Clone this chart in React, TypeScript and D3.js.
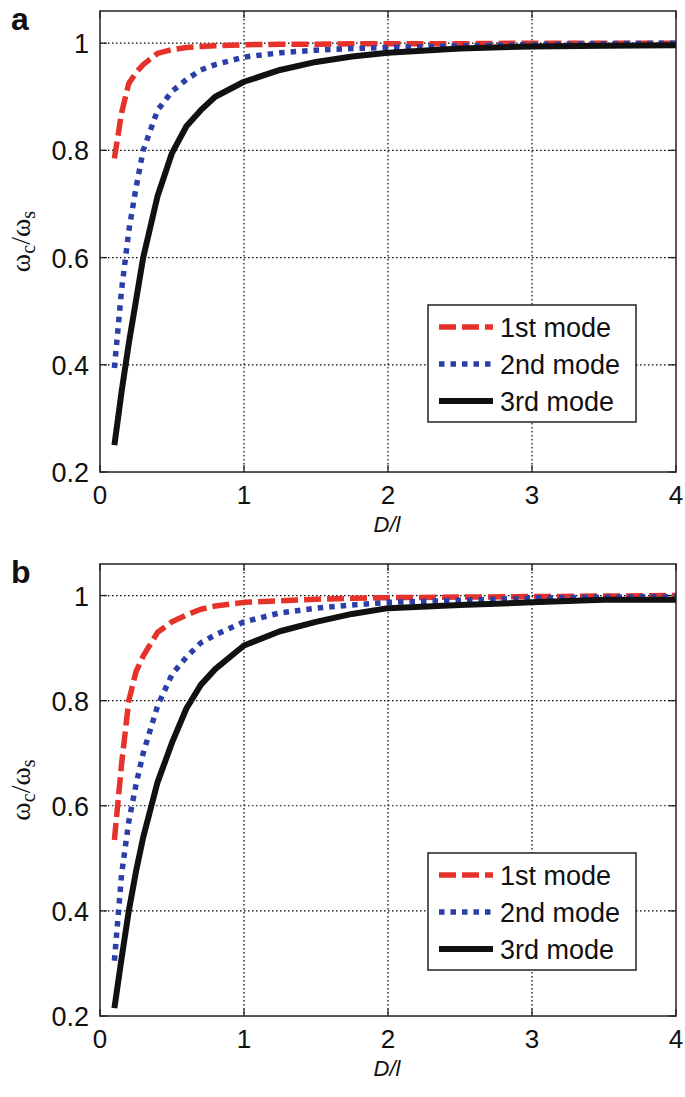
import React from "react";
import * as d3 from "d3";

const dValues = [0.1, 0.15, 0.2, 0.25, 0.3, 0.4, 0.5, 0.6, 0.7, 0.8, 1.0, 1.25, 1.5, 1.75, 2.0, 2.5, 3.0, 3.5, 4.0];

const aMode1 = [0.785, 0.87, 0.925, 0.945, 0.96, 0.981, 0.988, 0.992, 0.994, 0.995, 0.997, 0.998, 0.998, 0.999, 0.999, 0.999, 1.0, 1.0, 1.0];
const aMode2 = [0.394, 0.54, 0.65, 0.73, 0.8, 0.875, 0.91, 0.932, 0.95, 0.96, 0.974, 0.982, 0.987, 0.99, 0.992, 0.995, 0.997, 0.999, 1.0];
const aMode3 = [0.25, 0.35, 0.44, 0.52, 0.6, 0.715, 0.795, 0.845, 0.875, 0.9, 0.928, 0.95, 0.965, 0.975, 0.982, 0.99, 0.994, 0.995, 0.996];

const bMode1 = [0.535, 0.68, 0.8, 0.855, 0.885, 0.93, 0.95, 0.963, 0.974, 0.98, 0.987, 0.99, 0.993, 0.995, 0.996, 0.997, 0.998, 0.999, 1.0];
const bMode2 = [0.305, 0.47, 0.57, 0.64, 0.7, 0.79, 0.85, 0.883, 0.91, 0.925, 0.95, 0.967, 0.976, 0.982, 0.987, 0.991, 0.995, 0.997, 0.998];
const bMode3 = [0.215, 0.31, 0.4, 0.475, 0.54, 0.645, 0.72, 0.785, 0.83, 0.86, 0.905, 0.932, 0.95, 0.965, 0.976, 0.982, 0.987, 0.992, 0.992];

const seriesNames = ["1st mode", "2nd mode", "3rd mode"];
const xTicks = [0, 1, 2, 3, 4];
const yTicks = [0.2, 0.4, 0.6, 0.8, 1];
const xDomain = [0, 4];
const yDomain = [0.2, 1.06];
const panelLabels = ["a", "b"];

const styles = [
  { color: "#e5322a", width: 5.5, dash: "17,6" },
  { color: "#2c3fa8", width: 5.5, dash: "5.5,6" },
  { color: "#111111", width: 6, dash: "" },
];

const panels = [
  { label: panelLabels[0], top: 11, bottom: 472, series: [aMode1, aMode2, aMode3], legendTop: 305 },
  { label: panelLabels[1], top: 564, bottom: 1016, series: [bMode1, bMode2, bMode3], legendTop: 853 },
];

const LEFT = 100;
const RIGHT = 676;
const FONT = "Liberation Sans, Arial, Helvetica, sans-serif";

function Panel({ p }: { p: (typeof panels)[number] }) {
  const x = d3.scaleLinear().domain(xDomain).range([LEFT, RIGHT]);
  const y = d3.scaleLinear().domain(yDomain).range([p.bottom, p.top]);
  const line = d3
    .line<number>()
    .x((_, i) => x(dValues[i]))
    .y((v) => y(v));
  const legX = 428;
  const legW = 208;
  const legH = 117;
  const rowY = [22, 59, 96];
  return (
    <g>
      {xTicks.slice(1, -1).map((t) => (
        <line key={"gx" + t} x1={x(t)} x2={x(t)} y1={p.top} y2={p.bottom} stroke="#000" strokeWidth={1.2} strokeDasharray="1.5,2.5" />
      ))}
      {yTicks.slice(1).map((t) => (
        <line key={"gy" + t} x1={LEFT} x2={RIGHT} y1={y(t)} y2={y(t)} stroke="#000" strokeWidth={1.2} strokeDasharray="1.5,2.5" />
      ))}
      {xTicks.map((t) => (
        <g key={"tx" + t}>
          <line x1={x(t)} x2={x(t)} y1={p.bottom} y2={p.bottom - 7} stroke="#222" strokeWidth={1.3} />
          <line x1={x(t)} x2={x(t)} y1={p.top} y2={p.top + 7} stroke="#222" strokeWidth={1.3} />
          <text x={x(t)} y={p.bottom + 32} textAnchor="middle" fontFamily={FONT} fontSize={26} fill="#111">
            {t}
          </text>
        </g>
      ))}
      {yTicks.map((t) => (
        <g key={"ty" + t}>
          <line x1={LEFT} x2={LEFT + 7} y1={y(t)} y2={y(t)} stroke="#222" strokeWidth={1.3} />
          <line x1={RIGHT} x2={RIGHT - 7} y1={y(t)} y2={y(t)} stroke="#222" strokeWidth={1.3} />
          <text x={89} y={y(t) + 10} textAnchor="end" fontFamily={FONT} fontSize={27} fill="#111">
            {t === 1 ? "1" : t.toFixed(1)}
          </text>
        </g>
      ))}
      {p.series.map((s, i) => (
        <path
          key={"s" + i}
          d={line(s) || ""}
          fill="none"
          stroke={styles[i].color}
          strokeWidth={styles[i].width}
          strokeDasharray={styles[i].dash || undefined}
          strokeLinejoin="round"
        />
      ))}
      <rect x={LEFT} y={p.top} width={RIGHT - LEFT} height={p.bottom - p.top} fill="none" stroke="#222" strokeWidth={1.5} />
      <rect x={legX} y={p.legendTop} width={legW} height={legH} fill="#fff" stroke="#222" strokeWidth={1.5} />
      {seriesNames.map((n, i) => (
        <g key={"l" + i}>
          <line
            x1={legX + 11}
            x2={legX + 65}
            y1={p.legendTop + rowY[i]}
            y2={p.legendTop + rowY[i]}
            stroke={styles[i].color}
            strokeWidth={styles[i].width}
            strokeDasharray={styles[i].dash || undefined}
          />
          <text x={legX + 72} y={p.legendTop + rowY[i] + 10} fontFamily={FONT} fontSize={27} fill="#111">
            {n}
          </text>
        </g>
      ))}
      <text x={(LEFT + RIGHT) / 2 - 1} y={p.bottom + 60} textAnchor="middle" fontFamily={FONT} fontSize={22} fontStyle="italic" fill="#111">
        D/l
      </text>
      <text
        transform={`translate(30,${(p.top + p.bottom) / 2}) rotate(-90)`}
        textAnchor="middle"
        fontFamily="Liberation Serif, Times New Roman, serif"
        fontSize={28}
        fill="#111"
      >
        ω<tspan fontSize={20} dy={5}>c</tspan>
        <tspan dy={-5}>/ω</tspan>
        <tspan fontSize={20} dy={5}>s</tspan>
      </text>
      <text x={11} y={p.top + 19} fontFamily={FONT} fontSize={32} fontWeight="bold" fill="#111">
        {p.label}
      </text>
    </g>
  );
}

export default function App() {
  return (
    <svg width={685} height={1097} style={{ position: "absolute", left: 0, top: 0, background: "#fff" }}>
      <rect width={685} height={1097} fill="#fff" />
      {panels.map((p) => (
        <Panel key={p.label} p={p} />
      ))}
    </svg>
  );
}
